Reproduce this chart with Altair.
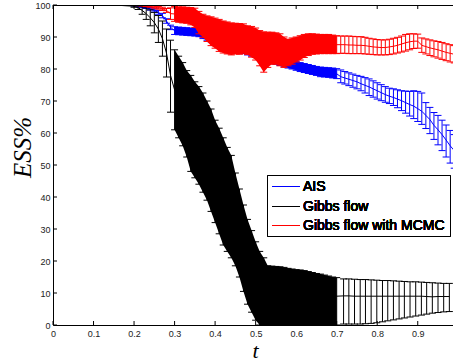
import altair as alt
import pandas as pd

# ---------------- data ----------------
SERIES = ["AIS", "Gibbs flow", "Gibbs flow with MCMC"]
COLORS = ["#0000ff", "#000000", "#ff0000"]

XTICKS = [0, 0.1, 0.2, 0.3, 0.4, 0.5, 0.6, 0.7, 0.8, 0.9]
YTICKS = [0, 10, 20, 30, 40, 50, 60, 70, 80, 90, 100]

# time grid shared by AIS and Gibbs flow with MCMC
T_SHARED = [0.00, 0.05, 0.10, 0.15,
            0.20, 0.21, 0.22, 0.23, 0.24, 0.25, 0.26, 0.27, 0.28, 0.29,
            0.30, 0.31, 0.32, 0.33, 0.34, 0.35, 0.36, 0.37, 0.38, 0.39,
            0.40, 0.41, 0.42, 0.43, 0.44, 0.45, 0.46, 0.47, 0.48, 0.49,
            0.50, 0.51, 0.52, 0.53, 0.54, 0.55, 0.56, 0.57, 0.58, 0.59,
            0.60, 0.61, 0.62, 0.63, 0.64, 0.65, 0.66, 0.67, 0.68, 0.69,
            0.70, 0.71, 0.72, 0.73, 0.74, 0.75, 0.76, 0.77, 0.78, 0.79,
            0.80, 0.81, 0.82, 0.83, 0.84, 0.85, 0.86, 0.87, 0.88, 0.89,
            0.90, 0.91, 0.92, 0.93, 0.94, 0.95, 0.96, 0.97, 0.98, 0.99]

AIS_MEAN = [100, 100, 100, 100,
            99.85, 99.7, 99.5, 99.2, 98.8, 98.3, 97.7, 96.7, 95.0, 93.0,
            92.0, 91.9, 91.8, 91.7, 91.6, 91.5, 91.3, 90.8, 90.3, 89.8,
            89.3, 88.8, 88.3, 87.8, 87.3, 86.9, 86.5, 86.1, 85.7, 85.3,
            84.9, 84.5, 84.1, 83.7, 83.3, 82.9, 82.5, 82.1, 81.7, 81.4,
            81.0, 80.6, 80.3, 80.0, 79.7, 79.4, 79.1, 79.0, 78.9, 78.7,
            78.5, 77.6, 77.2, 76.8, 76.4, 76.0, 75.4, 74.9, 74.4, 73.8,
            73.2, 72.6, 72.0, 71.5, 71.1, 70.6, 70.1, 69.5, 68.9, 68.4,
            67.6, 66.8, 65.5, 64.2, 62.4, 61.0, 59.5, 57.8, 56.0, 54.5]
AIS_LO = [100, 100, 100, 100,
          99.7, 99.5, 99.2, 98.9, 98.4, 97.8, 97.1, 96.0, 94.3, 92.3,
          90.8, 90.7, 90.6, 90.5, 90.4, 90.3, 90.1, 89.5, 89.0, 88.5,
          88.0, 87.5, 87.0, 86.5, 86.0, 85.6, 85.2, 84.8, 84.4, 84.0,
          83.6, 83.2, 82.8, 82.4, 82.0, 81.5, 81.1, 80.7, 80.3, 80.0,
          79.6, 79.2, 78.9, 78.6, 78.3, 78.0, 77.6, 77.5, 77.4, 77.2,
          77.0, 75.7, 75.3, 74.8, 74.3, 73.8, 73.2, 72.5, 71.7, 71.2,
          70.6, 70.1, 69.6, 69.2, 68.6, 67.9, 67.0, 66.2, 65.3, 64.5,
          63.6, 62.7, 61.4, 59.8, 58.0, 56.3, 54.5, 52.5, 50.6, 49.0]
AIS_HI = [100, 100, 100, 100,
          100, 99.9, 99.8, 99.5, 99.2, 98.8, 98.3, 97.4, 95.7, 93.7,
          93.2, 93.1, 93.0, 92.9, 92.8, 92.7, 92.5, 92.1, 91.6, 91.1,
          90.6, 90.1, 89.6, 89.1, 88.6, 88.2, 87.8, 87.4, 87.0, 86.6,
          86.2, 85.8, 85.4, 85.0, 84.6, 84.3, 83.9, 83.5, 83.1, 82.8,
          82.4, 82.0, 81.7, 81.4, 81.1, 80.8, 80.6, 80.5, 80.4, 80.3,
          80.1, 79.7, 79.2, 78.8, 78.4, 78.0, 77.7, 77.3, 76.9, 76.3,
          75.7, 75.1, 74.5, 74.0, 73.8, 73.5, 73.2, 73.1, 73.0, 73.2,
          73.0, 72.5, 69.5, 68.0, 66.4, 65.5, 64.0, 62.5, 60.8, 59.5]

MCMC_MEAN = [100, 100, 100, 100,
             99.95, 99.9, 99.85, 99.7, 99.55, 99.35, 99.1, 98.8, 98.3, 97.3,
             97.2, 97.0, 96.9, 96.8, 96.5, 96.0, 94.5, 93.5, 92.6, 91.8,
             91.2, 90.5, 90.0, 89.7, 89.4, 89.5, 89.4, 89.5, 89.0, 88.5,
             87.8, 86.5, 85.3, 86.0, 86.5, 86.4, 86.0, 85.3, 85.2, 85.6,
             86.1, 86.6, 87.2, 87.6, 87.8, 87.8, 87.8, 87.8, 87.8, 87.7,
             87.6, 87.6, 87.6, 87.5, 87.5, 87.4, 87.4, 87.3, 87.1, 86.9,
             86.8, 86.7, 86.7, 86.9, 87.1, 87.4, 87.8, 88.2, 88.5, 88.7,
             88.7, 87.4, 87.0, 86.6, 86.3, 86.0, 85.6, 85.2, 84.9, 84.6]
MCMC_LO = [100, 100, 100, 100,
           99.9, 99.8, 99.7, 99.5, 99.3, 99.0, 98.7, 98.3, 97.7, 95.5,
           94.9, 94.6, 94.4, 94.3, 93.8, 93.0, 91.0, 89.9, 88.6, 87.3,
           86.5, 85.5, 85.0, 84.7, 84.4, 84.7, 84.6, 84.9, 84.5, 83.7,
           82.8, 81.0, 79.0, 80.5, 81.5, 81.5, 81.0, 80.5, 81.0, 81.5,
           82.2, 82.8, 83.6, 84.2, 84.6, 84.7, 84.8, 84.8, 84.8, 84.8,
           84.8, 84.9, 84.9, 84.8, 84.8, 84.8, 84.8, 84.7, 84.6, 84.5,
           84.4, 84.4, 84.4, 84.5, 84.7, 85.0, 85.3, 85.6, 86.0, 86.4,
           86.5, 85.2, 84.7, 84.2, 83.8, 83.4, 83.0, 82.6, 82.2, 81.9]
MCMC_HI = [100, 100, 100, 100,
           100, 100, 100, 99.9, 99.8, 99.7, 99.5, 99.3, 98.9, 99.1,
           99.5, 99.4, 99.4, 99.3, 99.2, 99.0, 98.0, 97.1, 96.6, 96.3,
           95.9, 95.5, 95.0, 94.7, 94.4, 94.3, 94.2, 94.1, 93.5, 93.3,
           92.8, 92.0, 91.6, 91.5, 91.5, 91.3, 91.0, 90.0, 89.3, 89.7,
           90.0, 90.4, 90.8, 91.0, 91.0, 90.9, 90.8, 90.8, 90.8, 90.6,
           90.4, 90.3, 90.3, 90.3, 90.2, 90.1, 90.1, 89.9, 89.6, 89.4,
           89.2, 89.1, 89.1, 89.3, 89.6, 89.9, 90.3, 90.8, 91.0, 91.0,
           90.9, 89.7, 89.4, 89.1, 88.8, 88.6, 88.3, 87.9, 87.6, 87.3]

# Gibbs flow has its own time grid (coarser after t = 0.7)
GIBBS_T = [0.00, 0.05, 0.10, 0.15,
           0.20, 0.21, 0.22, 0.23, 0.24, 0.25, 0.26, 0.27, 0.28, 0.29,
           0.30, 0.31, 0.32, 0.33, 0.34, 0.35, 0.36, 0.37, 0.38, 0.39,
           0.40, 0.41, 0.42, 0.43, 0.44, 0.45, 0.46, 0.47, 0.48, 0.49,
           0.50, 0.51, 0.52, 0.53, 0.54, 0.55, 0.56, 0.57, 0.58, 0.59,
           0.60, 0.61, 0.62, 0.63, 0.64, 0.65, 0.66, 0.67, 0.68, 0.69,
           0.70, 0.717, 0.730, 0.744, 0.758, 0.771, 0.785, 0.799, 0.813,
           0.826, 0.840, 0.854, 0.867, 0.881, 0.895, 0.909, 0.922, 0.936,
           0.950, 0.964, 0.978]
GIBBS_MEAN = [100, 100, 100, 100,
              99.6, 99.2, 98.3, 97.3, 96.0, 94.5, 92.5, 89.5, 85.0, 78.0,
              73.5, 71.0, 69.0, 66.0, 63.0, 61.0, 59.3, 57.0, 54.5, 51.5,
              48.0, 45.0, 41.8, 39.3, 37.0, 33.0, 28.8, 24.0, 20.0, 16.8,
              13.8, 11.5, 10.0, 9.5, 9.3, 9.2, 9.2, 9.1, 9.0, 9.0,
              9.0, 9.0, 9.0, 9.0, 9.0, 9.0, 9.0, 9.0, 9.0, 9.0,
              9.0, 9.1, 9.1, 9.0, 9.0, 9.0, 9.0, 9.0, 9.0,
              9.0, 9.0, 9.0, 9.0, 9.0, 9.0, 9.0, 8.9, 8.8,
              8.9, 8.9, 8.9]
GIBBS_LO = [100, 100, 100, 100,
            99.3, 98.6, 97.1, 95.5, 93.5, 91.3, 88.3, 84.0, 77.5, 66.5,
            61.0, 58.5, 56.0, 52.5, 48.0, 46.0, 44.0, 41.5, 39.0, 35.5,
            32.0, 28.5, 25.0, 23.0, 21.0, 18.5, 15.0, 10.5, 6.5, 4.0,
            1.5, 0.0, 0.0, 0.0, 0.0, 0.0, 0.0, 0.0, 0.0, 0.0,
            0.0, 0.0, 0.0, 0.0, 0.0, 0.0, 0.0, 0.0, 0.0, 0.0,
            0.0, 0.3, 0.3, 0.3, 0.3, 0.4, 0.5, 0.7, 1.0,
            1.3, 1.6, 1.9, 2.2, 2.5, 2.8, 3.1, 3.4, 3.7,
            3.9, 4.1, 4.2]
GIBBS_HI = [100, 100, 100, 100,
            99.9, 99.8, 99.5, 99.1, 98.5, 97.7, 96.7, 95.0, 92.5, 89.0,
            86.0, 84.0, 82.0, 79.5, 78.0, 76.0, 74.5, 72.5, 70.0, 67.5,
            64.0, 61.5, 58.5, 55.5, 53.0, 47.5, 42.5, 37.5, 33.0, 29.5,
            26.0, 23.0, 21.0, 18.5, 18.4, 18.3, 18.2, 18.0, 17.7, 17.5,
            17.3, 17.2, 17.0, 16.7, 16.4, 16.1, 15.9, 15.6, 15.3, 15.0,
            14.8, 14.4, 14.4, 14.3, 14.2, 14.2, 14.1, 14.0, 13.9,
            13.9, 13.8, 13.7, 13.6, 13.5, 13.5, 13.4, 13.3, 13.2,
            13.1, 13.0, 13.0]

# ---------------- layout / style constants ----------------
W, H = 400, 320
DENSE_FROM, DENSE_TO = 0.295, 0.705   # region where the bars merge into a band
CAP = 3.5
TICK = 4
# legend box (pixels inside the plot area)
LEG_X0, LEG_X1, LEG_Y0, LEG_Y1 = 214.5, 397.5, 170.5, 231.5
LEG_ROWS = [181.5, 201.5, 220.5]
LEG_LINE = (219, 247)
LEG_TEXT_X = 250

frames = []
for name, t, lo, mean, hi in [
    ("AIS", T_SHARED, AIS_LO, AIS_MEAN, AIS_HI),
    ("Gibbs flow", GIBBS_T, GIBBS_LO, GIBBS_MEAN, GIBBS_HI),
    ("Gibbs flow with MCMC", T_SHARED, MCMC_LO, MCMC_MEAN, MCMC_HI),
]:
    frames.append(pd.DataFrame({"t": t, "lo": lo, "mean": mean, "hi": hi, "series": name}))
df = pd.concat(frames, ignore_index=True)

xs = alt.Scale(domain=[0, 0.987], nice=False, zero=False)
ys = alt.Scale(domain=[0, 100], nice=False)

xaxis = alt.Axis(values=XTICKS, format=".1~f", ticks=False, grid=False,
                 domainColor="black", domainWidth=1, labelFont="Liberation Sans",
                 labelFontSize=9, labelColor="#222", labelPadding=4, labelFlush=False,
                 title="t", titleFont="Liberation Serif", titleFontStyle="italic",
                 titleFontWeight="normal", titleFontSize=22, titleColor="black",
                 titleX=202, titleY=32, titleAlign="center", titleBaseline="alphabetic")
yaxis = alt.Axis(values=YTICKS, format="d", ticks=False, grid=False,
                 domainColor="black", domainWidth=1, labelFont="Liberation Sans",
                 labelFontSize=9, labelColor="#222", labelPadding=3, labelFlush=False,
                 title="ESS%", titleFont="Liberation Serif", titleFontStyle="italic",
                 titleFontWeight="normal", titleFontSize=25, titleColor="black",
                 titleAngle=270, titleX=-31, titleY=142, titleAlign="center",
                 titleBaseline="middle")

X = alt.X("t:Q", scale=xs, axis=xaxis)

layers = []
for name, col in zip(SERIES, COLORS):
    base = alt.Chart(df).transform_filter(alt.datum.series == name)
    band = base.transform_filter(
        (alt.datum.t >= DENSE_FROM) & (alt.datum.t <= DENSE_TO)
    ).mark_area(clip=True, color=col, opacity=1).encode(
        x=X, y=alt.Y("lo:Q", scale=ys, axis=yaxis), y2="hi:Q")
    bars = base.mark_rule(clip=True, color=col, strokeWidth=1).encode(
        x=X, y=alt.Y("lo:Q", scale=ys, axis=yaxis), y2="hi:Q")
    cap_hi = base.mark_rule(clip=True, color=col, strokeWidth=1,
                            xOffset=-CAP, x2Offset=CAP).encode(
        x=X, x2="t:Q", y=alt.Y("hi:Q", scale=ys, axis=yaxis))
    cap_lo = base.mark_rule(clip=True, color=col, strokeWidth=1,
                            xOffset=-CAP, x2Offset=CAP).encode(
        x=X, x2="t:Q", y=alt.Y("lo:Q", scale=ys, axis=yaxis))
    line = base.mark_line(clip=True, strokeWidth=1, color=col).encode(
        x=X, y=alt.Y("mean:Q", scale=ys, axis=yaxis))
    layers += [band, bars, cap_hi, cap_lo, line]

# inward tick marks and top frame line
xt = pd.DataFrame({"t": XTICKS})
yt = pd.DataFrame({"v": YTICKS})
xt_bottom = alt.Chart(xt).mark_rule(color="black", strokeWidth=1).encode(
    x=X, y=alt.value(H), y2=alt.value(H - TICK))
xt_top = alt.Chart(xt).mark_rule(color="black", strokeWidth=1).encode(
    x=X, y=alt.value(0), y2=alt.value(TICK))
yt_left = alt.Chart(yt).mark_rule(color="black", strokeWidth=1).encode(
    y=alt.Y("v:Q", scale=ys, axis=yaxis), x=alt.value(0), x2=alt.value(TICK))
top_line = alt.Chart(xt).mark_rule(color="black", strokeWidth=1).encode(
    y=alt.value(0.5), x=alt.value(0), x2=alt.value(W))
layers += [xt_bottom, xt_top, yt_left, top_line]

# legend (box, line samples, labels)
leg_box = alt.Chart(xt).mark_rect(fill="white", stroke="black", strokeWidth=1).encode(
    x=alt.value(LEG_X0), x2=alt.value(LEG_X1), y=alt.value(LEG_Y0), y2=alt.value(LEG_Y1))
layers.append(leg_box)
for name, col, yrow in zip(SERIES, COLORS, LEG_ROWS):
    layers.append(alt.Chart(xt).mark_rule(color=col, strokeWidth=1).encode(
        x=alt.value(LEG_LINE[0]), x2=alt.value(LEG_LINE[1]), y=alt.value(yrow)))
    layers.append(alt.Chart(xt).mark_text(
        align="left", baseline="middle", font="Liberation Sans", fontSize=14,
        fontWeight="normal", color="black").encode(
        x=alt.value(LEG_TEXT_X), y=alt.value(yrow), text=alt.value(name)))

chart = alt.layer(*layers).properties(
    width=W, height=H,
    autosize=alt.AutoSizeParams(type="none"),
    padding={"left": 53, "top": 5, "right": 0, "bottom": 36},
    background="white",
).configure_view(stroke=None)

chart.save("out.html", embed_options={"renderer": "svg", "actions": False})
